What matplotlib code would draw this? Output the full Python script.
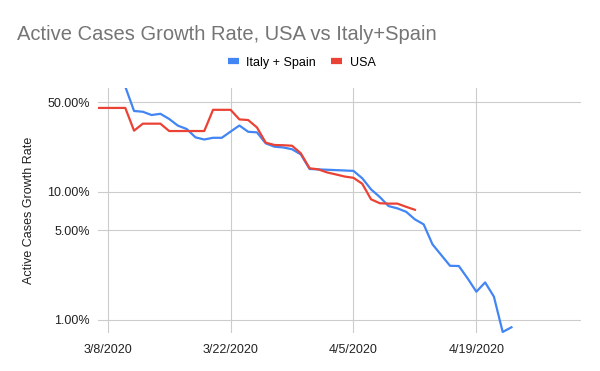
import pandas as pd
import numpy as np
import matplotlib
matplotlib.use('Agg')
import matplotlib.pyplot as plt
import matplotlib.dates as mdates
from matplotlib.ticker import FixedLocator, FuncFormatter, NullLocator
from matplotlib.lines import Line2D

# Daily active cases growth rate (%)
usa_start = '2020-03-07'
usa_rate = [45, 45, 45, 45, 29.9, 33.9, 33.9, 33.9, 29.7, 29.7, 29.7, 29.7, 29.7,
            43.5, 43.5, 43.5, 36.6, 36.2, 31.7, 24.1, 23.1, 23.0, 22.8, 19.9, 15.2,
            14.9, 14.1, 13.6, 13.1, 12.8, 11.5, 8.7, 8.1, 8.05, 8.05, 7.6, 7.2]

eu_start = '2020-03-10'
eu_rate = [66, 42.6, 42.0, 39.6, 40.5, 36.9, 32.7, 30.8, 26.5, 25.5, 26.3, 26.3,
           29.4, 32.8, 29.3, 29.0, 23.8, 22.4, 22.1, 21.4, 19.5, 15.0, 14.9, 14.8,
           14.7, 14.6, 14.5, 12.7, 10.4, 9.06, 7.70, 7.39, 6.95, 6.06, 5.54, 3.87,
           3.19, 2.63, 2.62, 2.10, 1.65, 1.95, 1.51, 0.80, 0.87]

y_ticks = [1, 5, 10, 50]
x_ticks = ['2020-03-08', '2020-03-22', '2020-04-05', '2020-04-19']
x_tick_labels = ['3/8/2020', '3/22/2020', '4/5/2020', '4/19/2020']

usa_dates = pd.date_range(usa_start, periods=len(usa_rate), freq='D')
eu_dates = pd.date_range(eu_start, periods=len(eu_rate), freq='D')

plt.rcParams['font.family'] = ['Liberation Sans', 'DejaVu Sans']

fig = plt.figure(figsize=(6, 3.71), dpi=100)
ax = fig.add_axes([0.1633, 0.1024, 0.8047, 0.6604])

blue = '#4285F4'
red = '#EA4335'
ax.plot(eu_dates, eu_rate, color=blue, lw=1.6, solid_joinstyle='round', zorder=3)
ax.plot(usa_dates, usa_rate, color=red, lw=1.6, solid_joinstyle='round', zorder=4)

ax.set_yscale('log')
ax.set_ylim(0.785, 64.4)
ax.yaxis.set_major_locator(FixedLocator(y_ticks))
ax.yaxis.set_minor_locator(NullLocator())
ax.yaxis.set_major_formatter(FuncFormatter(lambda v, p: '%.2f%%' % v))

base = pd.Timestamp('2020-03-08')
ax.set_xlim(mdates.date2num(base - pd.Timedelta(days=1.11)),
            mdates.date2num(base + pd.Timedelta(days=53.9)))
ax.set_xticks(mdates.date2num(pd.to_datetime(x_ticks)))
ax.set_xticklabels(x_tick_labels)

ax.grid(True, color='#cccccc', lw=0.8, zorder=0)
for s in ax.spines.values():
    s.set_visible(False)
ax.tick_params(length=0, labelsize=9, colors='#222222', pad=8)
ax.tick_params(axis='y', pad=6)

ax.set_ylabel('Active Cases Growth Rate', fontsize=9, color='#222222', labelpad=9)

fig.text(0.028, 0.908, 'Active Cases Growth Rate, USA vs Italy+Spain',
         fontsize=14.5, color='#757575', va='center', ha='left')

handles = [Line2D([], [], color=blue, lw=4.5, solid_capstyle='butt'),
           Line2D([], [], color=red, lw=4.5, solid_capstyle='butt')]
fig.legend(handles, ['Italy + Spain', 'USA'], loc='center', ncol=2,
           bbox_to_anchor=(0.503, 0.831), frameon=False, fontsize=9,
           handlelength=0.9, handletextpad=0.6, columnspacing=1.2)

plt.savefig('out.png', dpi=100)
